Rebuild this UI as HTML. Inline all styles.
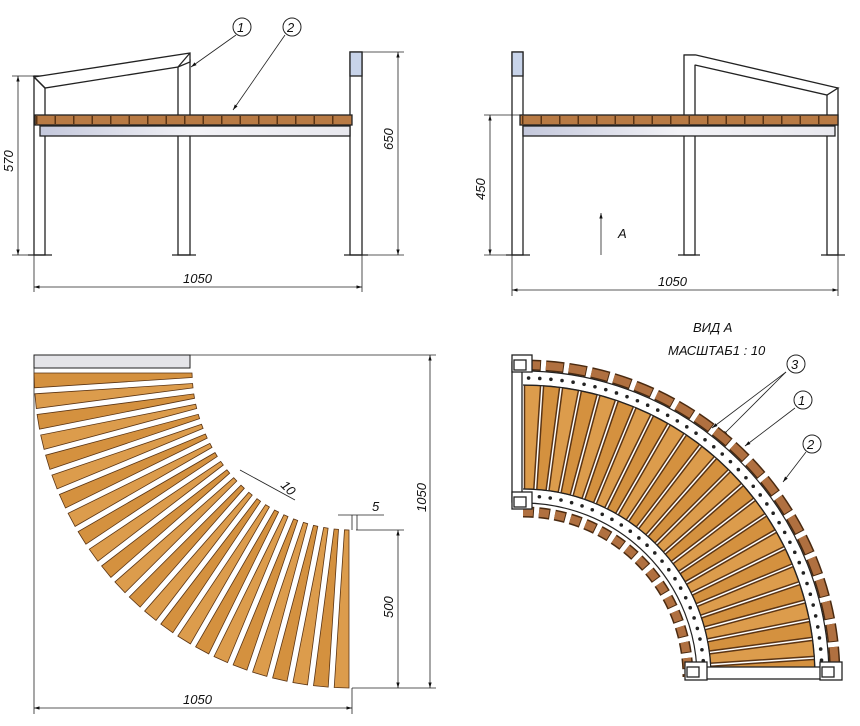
<!DOCTYPE html>
<html><head><meta charset="utf-8"><style>
html,body{margin:0;padding:0;background:#fff}
svg{display:block}
text{font-family:"Liberation Sans",sans-serif;font-style:italic;font-size:13px;fill:#111}
</style></head><body>
<svg id="s" width="860" height="726" viewBox="0 0 860 726" xmlns="http://www.w3.org/2000/svg">
<defs>
<marker id="a" viewBox="0 0 10 10" refX="10" refY="5" markerWidth="7" markerHeight="7" orient="auto-start-reverse"><path d="M0,2 L10,5 L0,8z" fill="#111"/></marker>
<linearGradient id="g" x1="0" x2="1" y1="0" y2="0"><stop offset="0" stop-color="#c4c8dc"/><stop offset="0.5" stop-color="#f2f2f6"/><stop offset="1" stop-color="#e8e8ee"/></linearGradient>
</defs>
<g stroke="#222" stroke-width="1.3" fill="none">
<!-- top-left front view -->
<rect x="34" y="76" width="11" height="179" fill="#fff"/>
<rect x="178" y="60" width="12" height="195" fill="#fff"/>
<rect x="350" y="52" width="12" height="203" fill="#fff"/>
<rect x="350" y="52" width="12" height="24" fill="#c8d4ea"/>
<path d="M34,77 L190,53 L190,62 L178,67 L45,88 Z" fill="#fff"/>
<line x1="178" y1="67" x2="190" y2="53"/><line x1="34" y1="77" x2="45" y2="88"/>
<rect x="35" y="115" width="317" height="10" fill="#b87a44"/>
<line x1="36" y1="120" x2="350" y2="120" stroke="#5a3414" stroke-width="8" stroke-dasharray="1.5 17"/>
<rect x="40" y="126" width="310" height="10" fill="url(#g)"/>
<line x1="28" y1="255" x2="52" y2="255"/><line x1="172" y1="255" x2="196" y2="255"/><line x1="344" y1="255" x2="368" y2="255"/>
<!-- top-right side view -->
<rect x="512" y="52" width="11" height="203" fill="#fff"/>
<rect x="512" y="52" width="11" height="24" fill="#c8d4ea"/>
<rect x="684" y="55" width="11" height="200" fill="#fff"/>
<rect x="827" y="88" width="11" height="167" fill="#fff"/>
<path d="M684,55 L696,55 L838,88 L827,95 L695,65" fill="#fff"/>
<rect x="520" y="115" width="318" height="10" fill="#b87a44"/>
<line x1="522" y1="120" x2="836" y2="120" stroke="#5a3414" stroke-width="8" stroke-dasharray="1.5 17"/>
<rect x="523" y="126" width="312" height="10" fill="url(#g)"/>
<line x1="506" y1="255" x2="530" y2="255"/><line x1="678" y1="255" x2="700" y2="255"/><line x1="821" y1="255" x2="845" y2="255"/>
</g>
<g stroke="#222" fill="none">
<g stroke-width="0.8">
<line x1="12" y1="76" x2="34" y2="76"/><line x1="12" y1="255" x2="28" y2="255"/>
<line x1="18" y1="76" x2="18" y2="255" marker-start="url(#a)" marker-end="url(#a)"/>
<line x1="362" y1="52" x2="404" y2="52"/><line x1="368" y1="255" x2="404" y2="255"/>
<line x1="398" y1="52" x2="398" y2="255" marker-start="url(#a)" marker-end="url(#a)"/>
<line x1="34" y1="255" x2="34" y2="292"/><line x1="362" y1="255" x2="362" y2="292"/>
<line x1="34" y1="287" x2="362" y2="287" marker-start="url(#a)" marker-end="url(#a)"/>
<line x1="484" y1="115" x2="520" y2="115"/><line x1="484" y1="255" x2="506" y2="255"/>
<line x1="490" y1="115" x2="490" y2="255" marker-start="url(#a)" marker-end="url(#a)"/>
<line x1="512" y1="255" x2="512" y2="296"/><line x1="838" y1="255" x2="838" y2="296"/>
<line x1="512" y1="290" x2="838" y2="290" marker-start="url(#a)" marker-end="url(#a)"/>
<line x1="601" y1="255" x2="601" y2="213" marker-end="url(#a)"/>
<line x1="190" y1="355" x2="436" y2="355"/><line x1="430" y1="355" x2="430" y2="688" marker-start="url(#a)" marker-end="url(#a)"/>
<line x1="352" y1="688" x2="436" y2="688"/>
<line x1="34" y1="368" x2="34" y2="714"/><line x1="352" y1="688" x2="352" y2="714"/>
<line x1="34" y1="708" x2="352" y2="708" marker-start="url(#a)" marker-end="url(#a)"/>
<line x1="356" y1="530" x2="404" y2="530"/>
<line x1="398" y1="530" x2="398" y2="688" marker-start="url(#a)" marker-end="url(#a)"/>
<line x1="338" y1="515" x2="384" y2="515"/><line x1="352" y1="515" x2="352" y2="530"/><line x1="357" y1="515" x2="357" y2="530"/>
<line x1="240" y1="470" x2="295" y2="500"/>
<line x1="236" y1="35" x2="191" y2="67" marker-end="url(#a)"/><line x1="285" y1="35" x2="233" y2="110" marker-end="url(#a)"/>
<line x1="786" y1="372" x2="712" y2="428" marker-end="url(#a)"/><line x1="786" y1="372" x2="722" y2="436" marker-end="url(#a)"/>
<line x1="795" y1="408" x2="745" y2="446" marker-end="url(#a)"/><line x1="806" y1="452" x2="783" y2="482" marker-end="url(#a)"/>
</g>
<circle cx="242" cy="27" r="9" fill="#fff"/><circle cx="292" cy="27" r="9" fill="#fff"/>
<circle cx="796" cy="364" r="9" fill="#fff"/><circle cx="803" cy="400" r="9" fill="#fff"/><circle cx="812" cy="444" r="9" fill="#fff"/>
<rect x="34" y="355" width="156" height="13" fill="#e4e4e8"/>
</g>
<g id="bl"></g><g id="br"></g>
<text x="237" y="32">1</text><text x="287" y="32">2</text>
<text x="791" y="369">3</text><text x="798" y="405">1</text><text x="807" y="449">2</text>
<text transform="translate(13,172) rotate(-90)">570</text>
<text transform="translate(393,150) rotate(-90)">650</text>
<text x="183" y="283">1050</text>
<text transform="translate(485,200) rotate(-90)">450</text>
<text x="658" y="286">1050</text>
<text x="618" y="238">A</text>
<text x="183" y="704">1050</text>
<text transform="translate(426,512) rotate(-90)">1050</text>
<text transform="translate(393,618) rotate(-90)">500</text>
<text x="372" y="511">5</text>
<text transform="translate(280,486) rotate(45)">10</text>
<text x="693" y="332">ВИД А</text>
<text x="668" y="355">МАСШТАБ1 : 10</text>
</svg>
<script>
var NS="http://www.w3.org/2000/svg";
function P(cx,cy,r,a){return [cx+r*Math.cos(a),cy+r*Math.sin(a)];}
function ring(g,cx,cy,r,R,a0,a1,n,gap,sw){
 var G=document.getElementById(g),step=(a1-a0)/n;
 for(var i=0;i<n;i++){
  var s=a0+i*step,e=s+step,gi=gap/R,gr=gap/r;
  var p=[P(cx,cy,r,s+gr),P(cx,cy,R,s+gi),P(cx,cy,R,e-gi),P(cx,cy,r,e-gr)];
  var el=document.createElementNS(NS,"polygon");
  el.setAttribute("points",p.map(function(q){return q[0].toFixed(1)+","+q[1].toFixed(1)}).join(" "));
  el.setAttribute("fill",i%2?"#d4913f":"#dc9c4c");el.setAttribute("stroke","#5a3414");el.setAttribute("stroke-width",sw||"0.8");
  G.appendChild(el);
 }
}
ring("bl",352,370,160,318,Math.PI/2,Math.PI,24,3);
var cx=523,cy=677;
var br=document.getElementById("br");
function arc(r,col,w,dash){var a=document.createElementNS(NS,"path");
 a.setAttribute("d","M"+cx+","+(cy-r)+" A"+r+","+r+" 0 0 1 "+(cx+r)+","+cy);
 a.setAttribute("fill","none");a.setAttribute("stroke",col);a.setAttribute("stroke-width",w);
 if(dash)a.setAttribute("stroke-dasharray",dash);br.appendChild(a);}
arc(312,"#4a2a10",11,"18 5");arc(312,"#b07040",8,"17 6");
arc(165,"#4a2a10",11,"11 5");arc(165,"#b07040",8,"10 6");
ring("br",cx,cy,188,292,-Math.PI/2,0,24,1.5,"1.5");
arc(299,"#fff",13);arc(306,"#222",1.2);arc(292,"#222",1.2);
arc(181,"#fff",13);arc(188,"#222",1.2);arc(174,"#222",1.2);
function dots(r,n){for(var k=0;k<n;k++){var a=-Math.PI/2+(k+0.5)*Math.PI/2/n;var q=P(cx,cy,r,a);
 var c=document.createElementNS(NS,"circle");c.setAttribute("cx",q[0]);c.setAttribute("cy",q[1]);c.setAttribute("r",1.8);c.setAttribute("fill","#222");br.appendChild(c);}}
dots(299,42);dots(181,26);
function R(x,y,w,h,f){var r=document.createElementNS(NS,"rect");r.setAttribute("x",x);r.setAttribute("y",y);r.setAttribute("width",w);r.setAttribute("height",h);
 r.setAttribute("fill",f);r.setAttribute("stroke","#222");r.setAttribute("stroke-width","1.3");br.appendChild(r);}
R(512,362,10,140,"#fff");R(690,667,142,12,"#fff");
[[512,355,20,17],[512,492,20,17],[685,662,22,18],[820,662,22,18]].forEach(function(b){R(b[0],b[1],b[2],b[3],"#fff");R(b[0]+2,b[1]+5,12,10,"#fff");});
</script>
</body></html>
